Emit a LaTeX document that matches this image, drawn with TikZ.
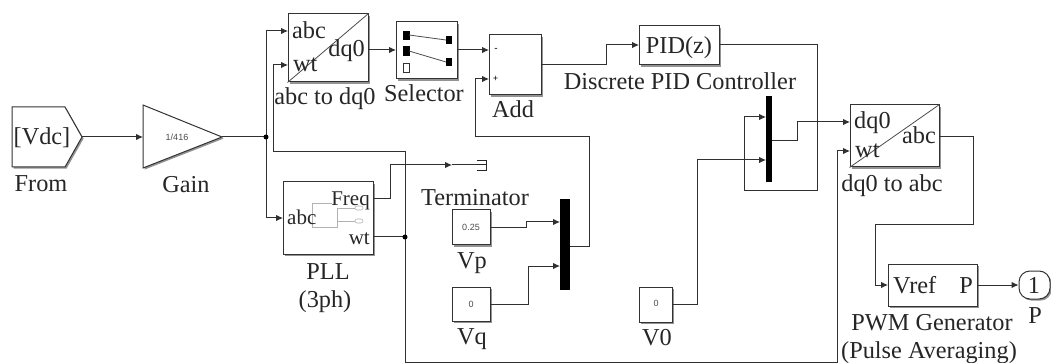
\documentclass[tikz,border=0pt]{standalone}
\usepackage{fontspec}
\setmainfont{Liberation Serif}
\newfontfamily\smallsans{Liberation Sans}
\usetikzlibrary{arrows.meta,shadows,calc}
\definecolor{wirec}{HTML}{303030}
\tikzset{
  blockbox/.style={draw=black!80,fill=white,line width=1pt,inner sep=0pt,
    drop shadow={shadow xshift=1.6pt,shadow yshift=-1.6pt,fill=black!60,opacity=0.7}},
  wire/.style={draw=wirec,line width=1pt},
  wirea/.style={wire,-{Latex[length=7pt,width=6.5pt]}},
  dot/.style={circle,fill=black,inner sep=0pt,minimum size=5pt},
  lab/.style={inner sep=0pt,anchor=base,font=\fontsize{24.3}{26}\selectfont,text=black!85},
  labl/.style={lab,anchor=base west},
  labr/.style={lab,anchor=base east},
  labs/.style={font=\fontsize{21}{23}\selectfont},
  tiny/.style={inner sep=0pt,font=\smallsans\fontsize{9}{10}\selectfont,text=black!70},
  inner/.style={draw=black!30,line width=0.6pt},
  muxbar/.style={fill=black,draw=none,inner sep=0pt}
}
\newcommand{\blk}[6][]{% name, x0,y0,x1,y1
  \node[blockbox,#1,minimum width=#4pt-#2pt,minimum height=#5pt-#3pt] (#6) at ({(#2+#4)/2},{(#3+#5)/2}) {};}
\begin{document}
\begin{tikzpicture}[x=1pt,y=-1pt]
\useasboundingbox (0,0) rectangle (1051,363);
\fill[white] (0,0) rectangle (1051,363);
% blocks
\draw[blockbox] (12,107) -- (65,107) -- (82,137) -- (65,167) -- (12,167) -- cycle;
\coordinate (fromout) at (82,137);
\draw[blockbox] (143,105) -- (222,137) -- (143,168) -- cycle;
\coordinate (gainin) at (143,137);
\coordinate (gainout) at (222,137);
\blk{288}{14}{368}{82}{adq}
\blk{396}{22}{457}{79}{sel}
\blk{489}{35}{541}{95}{add}
\blk{283}{182}{373}{254}{pll}
\blk{452}{210}{490}{245}{vp}
\blk{452}{287}{490}{321}{vq}
\blk{639}{26}{719}{65}{pid}
\blk{639}{287}{672}{322}{vzero}
\blk{850}{105}{939}{167}{dqa}
\blk{888}{264}{977}{306}{pwm}
\node[blockbox,rounded corners=11pt,minimum width=31pt,minimum height=28pt] (outp) at (1034.5,285) {};
\node[muxbar,minimum width=10pt,minimum height=91pt] (muxa) at (565,244.5) {};
\node[muxbar,minimum width=6.5pt,minimum height=86pt] (muxb) at (769,139) {};
% diagonals
\draw[black!70,line width=0.8pt] (adq.south west) -- (adq.north east);
\draw[black!70,line width=0.8pt] (dqa.south west) -- (dqa.north east);
% selector internals
\fill (403,31) rectangle (410,40);
\fill (403,46) rectangle (410,56);
\draw[black!80,line width=0.6pt,fill=white] (403,63) rectangle (409,72);
\fill (446,36) rectangle (452,44);
\fill (446,58) rectangle (452,66);
\draw[black!70,line width=0.8pt] (409,35) -- (446,40) (409,51) -- (446,62);
% PLL internals
\draw[inner] (332,203) -- (312,203) -- (312,227) -- (337,227) -- (337,208) -- (355,208);
\draw[inner] (337,221) -- (355,221);
\draw[inner,rounded corners=2pt] (355,206) rectangle (363,210);
\draw[inner,rounded corners=2pt] (355,219) rectangle (363,223);
% terminator
\coordinate (termin) at (477,165);
\draw[black!85,line width=1pt] (477,161) -- (486,161) -- (486,171) -- (477,171);
\draw[black!85,line width=1pt] (477,165) -- (486,165);
% wires
\coordinate (j1) at (266,137);
\coordinate (j2) at (405,237);
\draw[wirea] (fromout) -- (gainin);
\draw[wire] (gainout) -- (j1);
\draw[wirea] (j1) |- (288,31);
\draw[wirea] (j1) |- (283,218);
\draw[wirea] (j2) -- (405,152) -- (273,152) -- (273,65) -- (288,65);
\draw[wire] (373,237) -- (j2);
\draw[wirea] (j2) -- (405,362) -- (837,362) -- (837,151) -- (850,151);
\draw[wirea] (373,199) -- (390,199) -- (390,165) -- (452,165);
\draw[wire] (452,165) -- (termin);
\draw[wirea] (368,50) -- (396,50);
\draw[wirea] (457,50) -- (489,50);
\draw[wirea] (570,247) -- (589,247) -- (589,137) -- (475,137) -- (475,79) -- (489,79);
\draw[wirea] (490,228) -- (526,228) -- (526,222) -- (560,222);
\draw[wirea] (490,304) -- (528,304) -- (528,266) -- (560,266);
\draw[wirea] (541,64.5) -- (606,64.5) -- (606,45) -- (639,45);
\draw[wirea] (719,45) -- (817,45) -- (817,190.5) -- (744,190.5) -- (744,117) -- (766,117);
\draw[wirea] (672,304) -- (697,304) -- (697,160) -- (766,160);
\draw[wirea] (772,141) -- (797,141) -- (797,122) -- (850,122);
\draw[wirea] (939,137) -- (973,137) -- (973,225) -- (875,225) -- (875,285) -- (888,285);
\draw[wirea] (pwm.east) -- (outp.west);
\node[dot] at (j1) {};
\node[dot] at (j2) {};
% labels
\node[lab] (t1) at (42,145) {[Vdc]};
\node[lab] (t2) at (41,192) {From};
\node[lab] (t3) at (186,193) {Gain};
\node[tiny] (t4) at (177,137) {1/416};
\node[labl] (t5) at (292,39) {abc};
\node[labl] (t6) at (293,72) {wt};
\node[labr] (t7) at (365,57) {dq0};
\node[lab] (t8) at (325,105) {abc to dq0};
\node[lab] (t9) at (424,102) {Selector};
\node[lab] (t10) at (513,118) {Add};
\node[inner sep=0pt,font=\smallsans\fontsize{10}{11}\selectfont] (t11) at (496,50) {-};
\node[inner sep=0pt,font=\smallsans\fontsize{9}{10}\selectfont] (t12) at (495.5,79) {+};
\node[labr,labs] (t13) at (370,206) {Freq};
\node[labl,labs] (t14) at (287,225) {abc};
\node[labr,labs] (t15) at (370,244) {wt};
\node[lab] (t16) at (328,279) {PLL};
\node[lab] (t17) at (325,307) {(3ph)};
\node[lab] (t18) at (475,206) {Terminator};
\node[tiny] (t19) at (471,227) {0.25};
\node[tiny] (t20) at (471,304) {0};
\node[lab] (t21) at (472,268) {Vp};
\node[lab] (t22) at (472,344) {Vq};
\node[lab] (t23) at (679,54) {PID(z)};
\node[lab] (t24) at (680,90) {Discrete PID Controller};
\node[tiny] (t25) at (656,303) {0};
\node[lab] (t26) at (657,345) {V0};
\node[labl] (t27) at (854,129) {dq0};
\node[labl] (t28) at (855,158) {wt};
\node[labr] (t29) at (936,144) {abc};
\node[lab] (t30) at (892,192) {dq0 to abc};
\node[labl] (t31) at (893,293) {Vref};
\node[labr] (t32) at (973,293) {P};
\node[lab] (t33) at (932,330) {PWM Generator};
\node[lab] (t34) at (929,358) {(Pulse Averaging)};
\node[lab] (t35) at (1034,293) {1};
\node[lab] (t36) at (1035,323) {P};
\end{tikzpicture}
\end{document}
